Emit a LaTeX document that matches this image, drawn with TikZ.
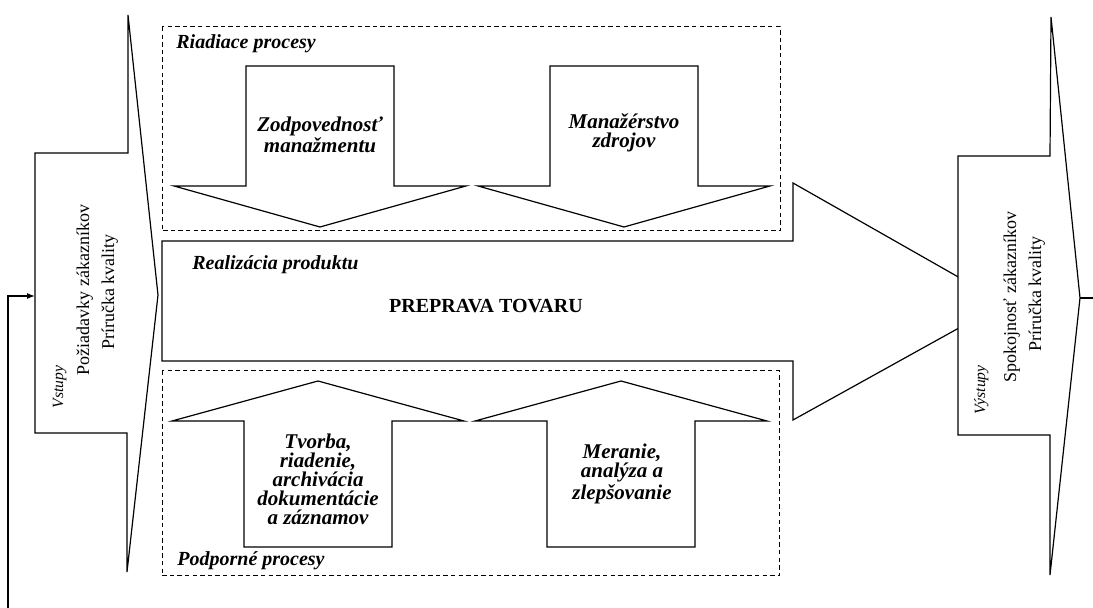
\documentclass[tikz,border=0pt]{standalone}
\usepackage{fontspec}
\setmainfont{Liberation Serif}
\usetikzlibrary{arrows.meta}

\tikzset{
	outline/.style={draw, fill=white, line width=0.6pt},
	groupbox/.style={draw, line width=0.5pt, dash pattern=on 2.2pt off 1.6pt},
	grouptitle/.style={anchor=base west, inner sep=0pt, font=\fontsize{10}{12}\selectfont\bfseries\itshape},
	steplabel/.style={align=center, inner sep=0pt, font=\fontsize{10.5}{9.5}\selectfont\bfseries\itshape},
	sidelabel/.style={rotate=90, anchor=base, inner sep=0pt, font=\fontsize{9}{11}\selectfont},
	sidehead/.style={sidelabel, font=\fontsize{7.8}{9}\selectfont\itshape},
}

\begin{document}
\begin{tikzpicture}[x=0.5pt, y=-0.5pt]

	% ---- parameters (pixel units, y grows downwards)

	\def\halfbody{74}
	\def\halfhead{146}

	% ---- frame

	\useasboundingbox (0,0) rectangle (1093,608);

	% ---- coordinates

	\coordinate (fbS) at (8,608);
	\coordinate (fbC) at (8,296);
	\coordinate (fbE) at (35,296);
	\coordinate (outS) at (1080,298);
	\coordinate (outE) at (1093,298);

	% ---- process groups

	\draw[groupbox] (162,27) rectangle (780,231);
	\draw[groupbox] (162,371) rectangle (779,576);

	% ---- inputs arrow

	\draw[outline] (35,153) -- (128,153) -- (128,15) -- (158,295) -- (127,572) -- (127,433) -- (35,433) -- cycle;

	% ---- product realization arrow

	\draw[outline] (162,241) -- (793,241) -- (793,183) -- (1004,303) -- (793,420) -- (793,361) -- (162,361) -- cycle;

	% ---- outputs arrow (covers the tip above)

	\draw[outline] (958,156) -- (1050,156) -- (1051,17) -- (1080,298) -- (1050,575) -- (1050,435) -- (958,435) -- cycle;

	% ---- management arrows

	\foreach \c in {320,624} {
		\draw[outline] (\c-\halfbody,66) -- (\c+\halfbody,66) -- (\c+\halfbody,186) -- (\c+\halfhead,186)
			-- (\c,227) -- (\c-\halfhead,186) -- (\c-\halfbody,186) -- cycle;
	}

	% ---- support arrows

	\foreach \c in {318,621} {
		\draw[outline] (\c-\halfbody,547) -- (\c+\halfbody,547) -- (\c+\halfbody,421) -- (\c+\halfhead,421)
			-- (\c,381) -- (\c-\halfhead,421) -- (\c-\halfbody,421) -- cycle;
	}

	% ---- feedback loop

	\draw[line width=0.6pt, -{Latex[length=4pt,width=3pt]}] (fbS) -- (fbC) -- (fbE);
	\draw[line width=0.6pt] (outS) -- (outE);

	% ---- group labels

	\node[grouptitle] (riad) at (176,49) {Riadiace procesy};
	\node[grouptitle] (podp) at (177,566) {Podporné procesy};
	\node[grouptitle] (real) at (192,270) {Realizácia produktu};
	\node[anchor=base, inner sep=0pt, font=\fontsize{10}{12}\selectfont\bfseries] (prep) at (486,313) {PREPRAVA TOVARU};

	% ---- step labels

	\node[steplabel] (zodp) at (320,135) {Zodpovednosť\\manažmentu};
	\node[steplabel] (manz) at (624,133) {Manažérstvo\\zdrojov};
	\node[steplabel] (tvor) at (318,479) {Tvorba,\\riadenie,\\archivácia\\dokumentácie\\a záznamov};
	\node[steplabel] (mera) at (622,474) {Meranie,\\analýza a\\zlepšovanie};

	% ---- side labels

	\node[sidehead] (vst) at (63,387) {Vstupy};
	\node[sidelabel] (poz) at (89,290) {Požiadavky zákazníkov};
	\node[sidelabel] (pri1) at (114,292) {Príručka kvality};

	\node[sidehead] (vyst) at (985,390) {Výstupy};
	\node[sidelabel] (spok) at (1016,297) {Spokojnosť zákazníkov};
	\node[sidelabel] (pri2) at (1041,294) {Príručka kvality};

\end{tikzpicture}
\end{document}
